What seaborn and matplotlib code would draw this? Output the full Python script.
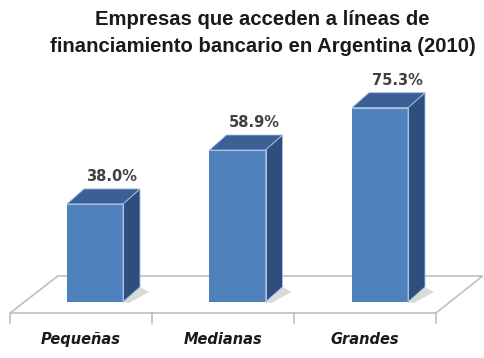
import matplotlib
matplotlib.use('Agg')
import matplotlib.pyplot as plt
import seaborn as sns
from matplotlib.patches import Polygon

categories = ['Pequeñas', 'Medianas', 'Grandes']
values = [38.0, 58.9, 75.3]
value_labels = ['38.0%', '58.9%', '75.3%']
title_lines = ['Empresas que acceden a líneas de',
               'financiamiento bancario en Argentina (2010)']

FRONT = '#4F81BD'
SIDE = '#2E4F7E'
TOP = '#3A6095'
EDGE = '#A9C1E0'
FLOOR_EDGE = '#BFBFBF'
SHADOW = '#DADADA'

sns.set_theme(style='white')
plt.rcParams['font.family'] = ['DejaVu Sans']

W, H = 485, 358
fig = plt.figure(figsize=(W / 100, H / 100), dpi=100)
XL = (-0.62, 2.72)
YL = (-8, 95)
ax = fig.add_axes([6.65 / W, (H - 322.6) / H, 475.95 / W, 265.74 / H])
sns.barplot(x=categories, y=values, color=FRONT, width=0.393, saturation=1,
            ax=ax, zorder=3, linewidth=0)
ax.set_xlim(*XL)
ax.set_ylim(*YL)
ax.axis('off')

# pixel -> data scale factors
t0 = ax.transData.transform((0, 0))
t1 = ax.transData.transform((1, 1))
sx = 1.0 / (t1[0] - t0[0])
sy = 1.0 / (t1[1] - t0[1])
DX, DY = 17 * sx, 15 * sy

# floor
FL, FR = -0.596, 2.393
BL, BR = -0.26, 2.72
FY, BY = -11 * sy, 26 * sy
floor = Polygon([(FL, FY), (FR, FY), (BR, BY), (BL, BY)], closed=True,
                fc='white', ec=FLOOR_EDGE, lw=1.2, zorder=1, clip_on=False)
ax.add_patch(floor)
step = (FR - FL) / 3
for k in range(4):
    xk = FL + k * step
    ax.plot([xk, xk], [FY, FY - 10 * sy], color=FLOOR_EDGE, lw=1.2,
            zorder=1, clip_on=False)
for i, cat in enumerate(categories):
    ax.text(FL + (i + 0.5) * step, -38 * sy, cat, ha='center', va='center',
            fontsize=10.5, fontweight='bold', fontstyle='italic',
            color='#1A1A1A', clip_on=False)

bars = list(ax.patches)[:len(values)]
for p, lab in zip(bars, value_labels):
    x0 = p.get_x()
    w = p.get_width()
    h = p.get_height()
    x1 = x0 + w
    shadow = Polygon([(x1, 0), (x1 + DX, DY), (x1 + DX + 9 * sx, DY - 5 * sy),
                      (x1 + 6 * sx, -1 * sy)], closed=True, fc=SHADOW,
                     ec='none', zorder=2)
    ax.add_patch(shadow)
    side = Polygon([(x1, 0), (x1 + DX, DY), (x1 + DX, h + DY), (x1, h)],
                   closed=True, fc=SIDE, ec=EDGE, lw=0.6, zorder=3)
    top = Polygon([(x0, h), (x0 + DX, h + DY), (x1 + DX, h + DY), (x1, h)],
                  closed=True, fc=TOP, ec=EDGE, lw=0.6, zorder=3)
    ax.add_patch(side)
    ax.add_patch(top)
    ax.plot([x0, x1, x1], [h, h, 0], color=EDGE, lw=0.8, zorder=4)
    ax.text(x0 + w / 2 + DX, h + 23 * sy, lab, ha='center', va='baseline',
            fontsize=10.5, fontweight='bold', color='#404040', clip_on=False)

fig.text(262 / W, 1 - 25 / H, title_lines[0], ha='center', va='baseline',
         fontsize=14.6, fontweight='bold', family='Liberation Sans',
         color='#1A1A1A')
fig.text(263 / W, 1 - 52 / H, title_lines[1], ha='center', va='baseline',
         fontsize=14.6, fontweight='bold', family='Liberation Sans',
         color='#1A1A1A')

fig.savefig('out.png', dpi=100)
